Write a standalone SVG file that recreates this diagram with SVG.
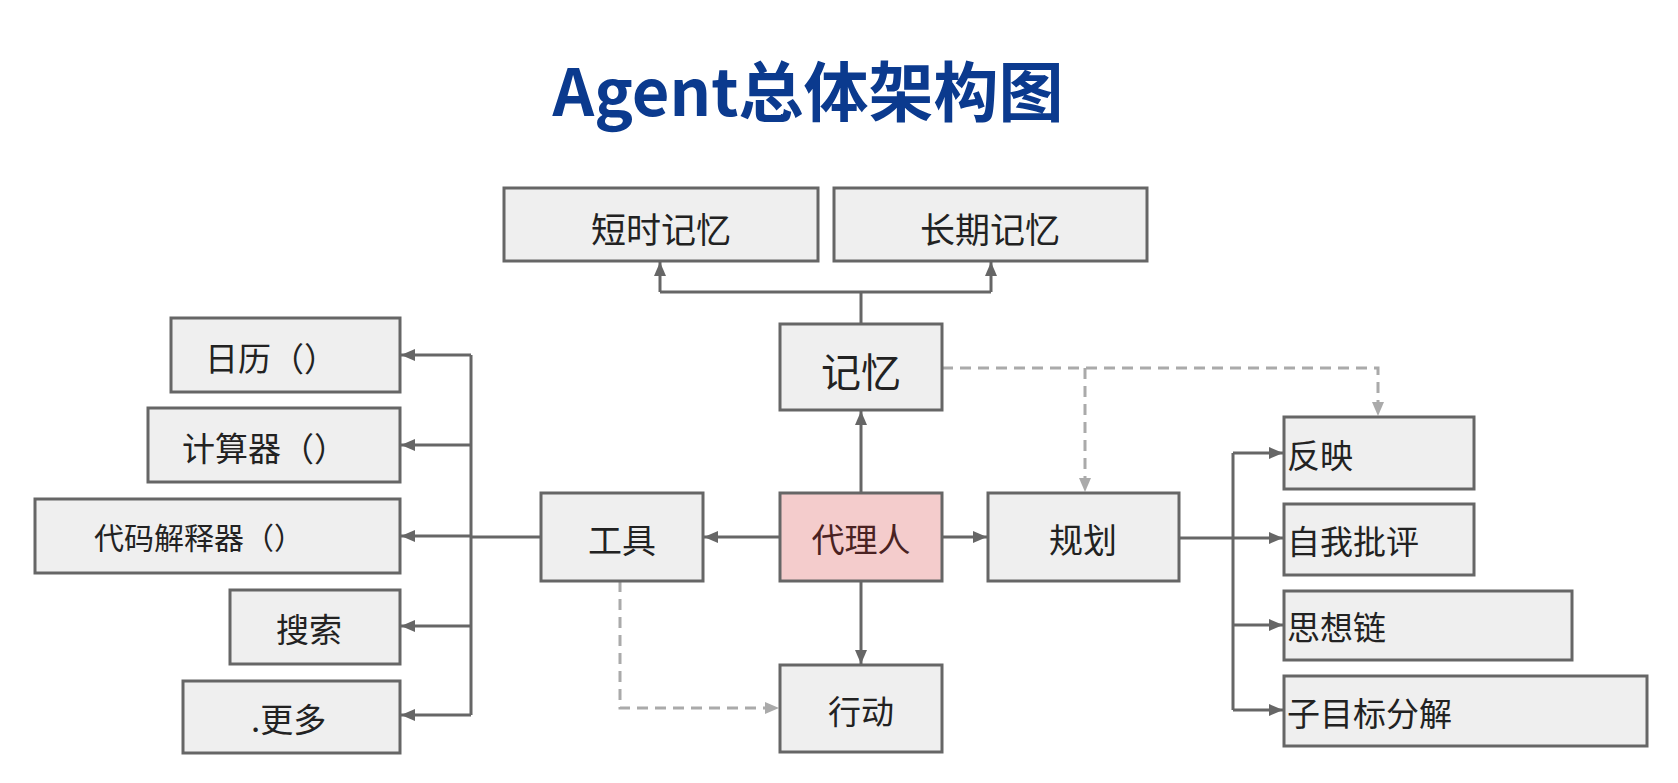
<svg xmlns="http://www.w3.org/2000/svg" width="1678" height="783" viewBox="0 0 1678 783">
<style>
.box{fill:#efefef;stroke:#666;stroke-width:3}
.agent{fill:#f4cccc;stroke:#666;stroke-width:3}
.t{font-family:"Noto Sans CJK SC","Noto Sans",sans-serif;fill:#222;dominant-baseline:central}
.c{text-anchor:middle}
.ln{fill:none;stroke:#666;stroke-width:3}
.dash{fill:none;stroke:#aaa;stroke-width:3;stroke-dasharray:11 7}
</style>
<defs>
<marker id="ah" viewBox="0 0 14 12" refX="14" refY="6" markerWidth="14" markerHeight="12" markerUnits="userSpaceOnUse" orient="auto"><path d="M0 0L14 6L0 12Z" fill="#666"/></marker>
<marker id="ahg" viewBox="0 0 14 12" refX="14" refY="6" markerWidth="14" markerHeight="12" markerUnits="userSpaceOnUse" orient="auto"><path d="M0 0L14 6L0 12Z" fill="#aaa"/></marker>
</defs>
<rect width="1678" height="783" fill="#fff"/>
<text x="808" y="88" class="t c" style="font-size:65px;font-weight:bold;fill:#0b3a8e">Agent总体架构图</text>

<g id="connectors">
<path class="ln" d="M861 324V292M660 292H991"/>
<path class="ln" marker-end="url(#ah)" d="M660 292V262"/>
<path class="ln" marker-end="url(#ah)" d="M991 292V262"/>
<path class="ln" marker-end="url(#ah)" d="M861 493V411"/>
<path class="ln" marker-end="url(#ah)" d="M780 537H704"/>
<path class="ln" marker-end="url(#ah)" d="M942 537H987"/>
<path class="ln" marker-end="url(#ah)" d="M861 581V664"/>
<path class="ln" d="M541 537H471M471 355V715"/>
<path class="ln" marker-end="url(#ah)" d="M471 355H401"/>
<path class="ln" marker-end="url(#ah)" d="M471 445H401"/>
<path class="ln" marker-end="url(#ah)" d="M471 536H401"/>
<path class="ln" marker-end="url(#ah)" d="M471 626H401"/>
<path class="ln" marker-end="url(#ah)" d="M471 715H401"/>
<path class="ln" d="M1179 538H1233M1233 453V710"/>
<path class="ln" marker-end="url(#ah)" d="M1233 453H1283"/>
<path class="ln" marker-end="url(#ah)" d="M1233 538H1283"/>
<path class="ln" marker-end="url(#ah)" d="M1233 625H1283"/>
<path class="ln" marker-end="url(#ah)" d="M1233 710H1283"/>
<path class="dash" marker-end="url(#ahg)" d="M942 368H1378V416"/>
<path class="dash" marker-end="url(#ahg)" d="M1085 368V492"/>
<path class="dash" marker-end="url(#ahg)" d="M620 581V708H779"/>
</g>

<g id="short-memory"><rect class="box" x="504" y="188" width="314" height="73"/><text class="t c" x="661" y="227" font-size="35">短时记忆</text></g>
<g id="long-memory"><rect class="box" x="834" y="188" width="313" height="73"/><text class="t c" x="990" y="227" font-size="35">长期记忆</text></g>
<g id="memory"><rect class="box" x="780" y="324" width="162" height="86"/><text class="t c" x="861" y="370" font-size="40">记忆</text></g>
<g id="agent"><rect class="agent" x="780" y="493" width="162" height="88"/><text class="t c" x="861" y="538" font-size="33" style="fill:#4a2222">代理人</text></g>
<g id="tools"><rect class="box" x="541" y="493" width="162" height="88"/><text class="t c" x="622" y="538" font-size="34">工具</text></g>
<g id="planning"><rect class="box" x="988" y="493" width="191" height="88"/><text class="t c" x="1083" y="538" font-size="34">规划</text></g>
<g id="action"><rect class="box" x="780" y="665" width="162" height="87"/><text class="t c" x="861" y="710" font-size="33">行动</text></g>

<g id="calendar"><rect class="box" x="171" y="318" width="229" height="74"/><text class="t" x="205" y="357" font-size="33">日历（）</text></g>
<g id="calculator"><rect class="box" x="148" y="408" width="252" height="74"/><text class="t" x="182" y="447" font-size="33">计算器（）</text></g>
<g id="code-interpreter"><rect class="box" x="35" y="499" width="365" height="74"/><text class="t" x="94" y="536" font-size="30">代码解释器（）</text></g>
<g id="search"><rect class="box" x="230" y="590" width="170" height="74"/><text class="t" x="276" y="628" font-size="33">搜索</text></g>
<g id="more"><rect class="box" x="183" y="681" width="217" height="72"/><text class="t" x="251" y="718" font-size="33">.更多</text></g>

<g id="reflection"><rect class="box" x="1284" y="417" width="190" height="72"/><text class="t" x="1287" y="454" font-size="33">反映</text></g>
<g id="self-critique"><rect class="box" x="1284" y="504" width="190" height="71"/><text class="t" x="1287" y="540" font-size="33">自我批评</text></g>
<g id="chain-of-thought"><rect class="box" x="1284" y="591" width="288" height="69"/><text class="t" x="1287" y="626" font-size="33">思想链</text></g>
<g id="subgoal"><rect class="box" x="1284" y="676" width="363" height="70"/><text class="t" x="1287" y="712" font-size="33">子目标分解</text></g>
</svg>
